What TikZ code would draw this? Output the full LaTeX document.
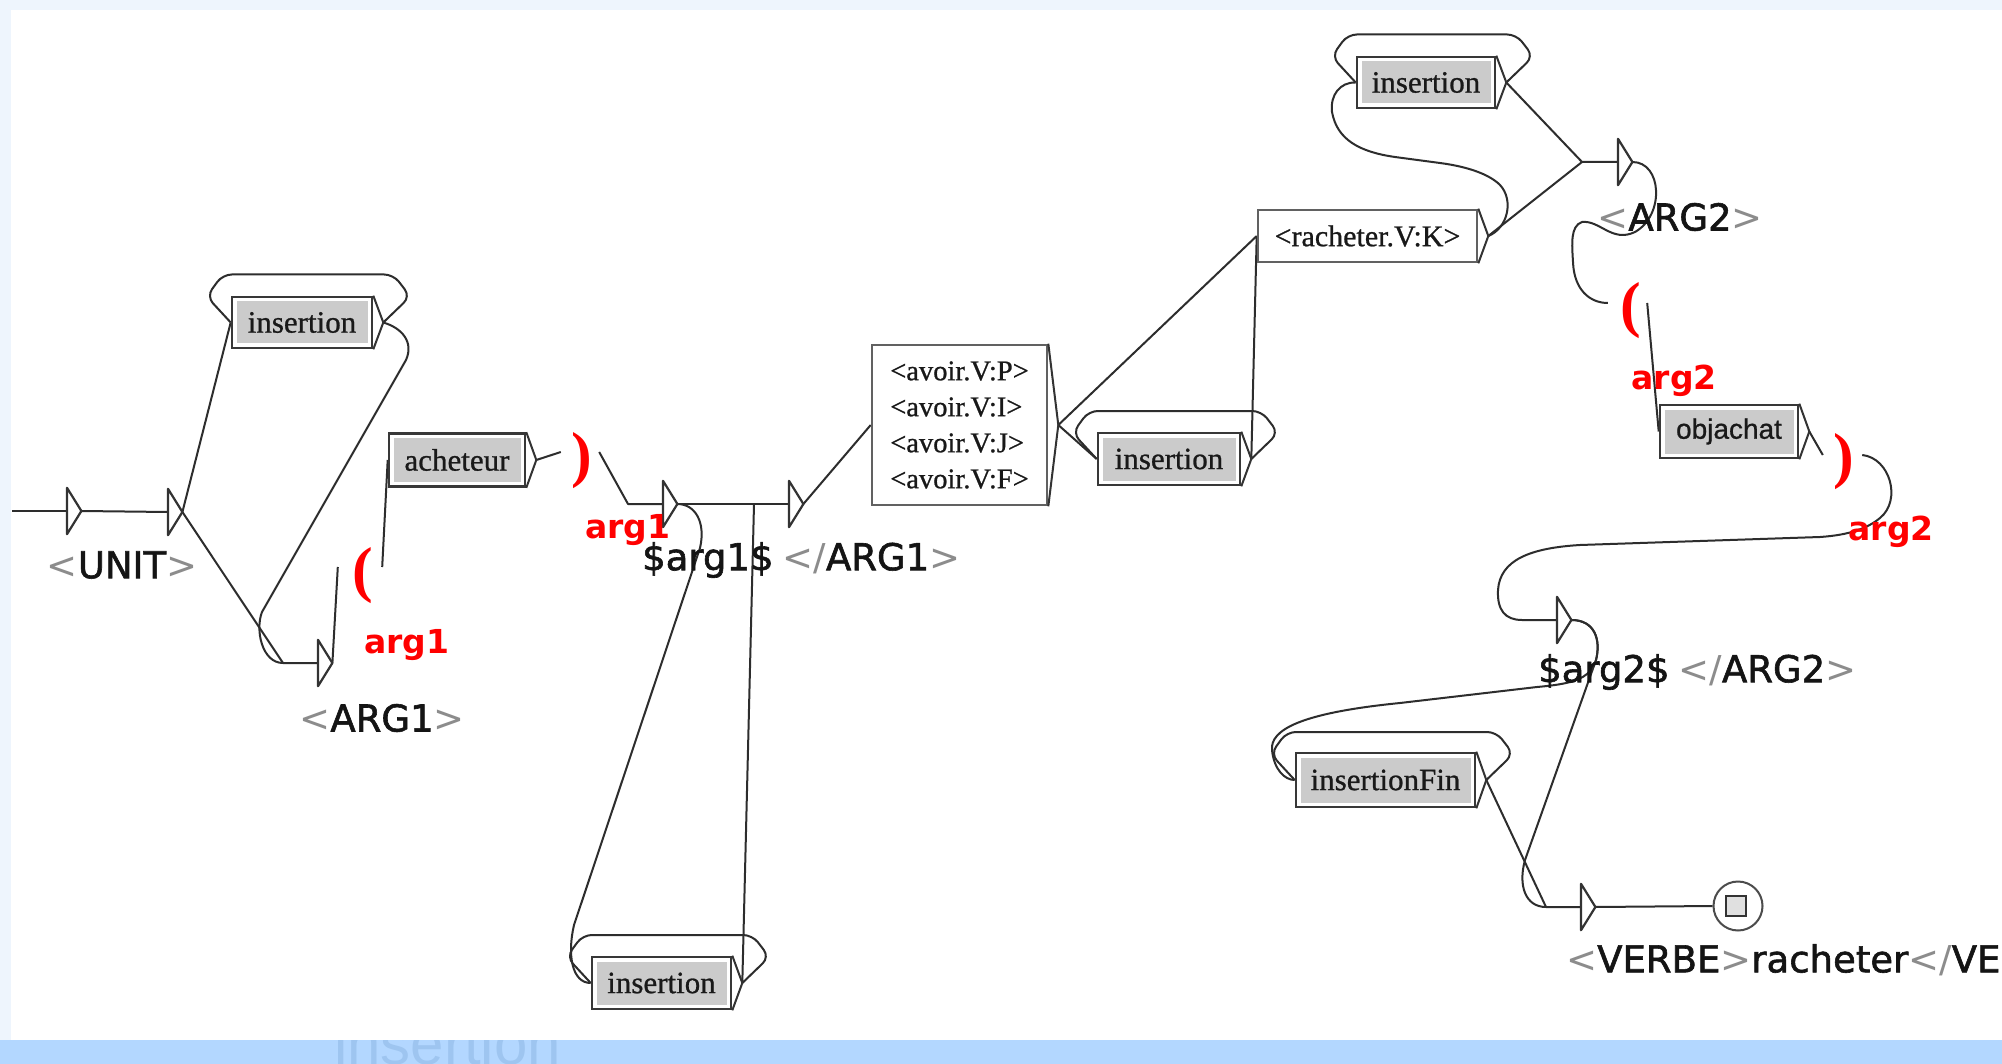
\documentclass[tikz,border=0pt]{standalone}
\usepackage{fontspec}
\setmainfont{Liberation Serif}
\newfontfamily\labfont[FakeBold=1.6]{DejaVu Sans}
\newfontfamily\labthin{DejaVu Sans}
\newfontfamily\boxfont[FakeBold=0.8]{Liberation Serif}
\newfontfamily\sansfont[FakeBold=0.8]{Liberation Sans}
\newfontfamily\bandfont{Liberation Sans}
\usetikzlibrary{calc}
\definecolor{bandtop}{RGB}{238,245,253}
\definecolor{bandbot}{RGB}{179,215,255}
\definecolor{bandtxt}{RGB}{158,197,240}
\definecolor{boxgray}{RGB}{203,203,203}
\definecolor{linec}{RGB}{45,45,45}
\definecolor{redv}{RGB}{255,0,0}
\pgfdeclarelayer{bg}\pgfdeclarelayer{edges}\pgfsetlayers{bg,edges,main}
\newcommand\Lsym{{\labthin\color{black!45}<}}
\newcommand\Rsym{{\labthin\color{black!45}>}}
\newcommand\Ssym{{\labthin\color{black!45}/}}
\tikzset{
 conn/.style={draw=linec, line width=2pt, line join=round},
 graybox/.style={rectangle, draw=black!78, line width=2.6pt, fill=white, inner sep=0pt,
   font=\boxfont\fontsize{31}{31}\selectfont, text=black!90,
   path picture={\fill[boxgray] ([shift={(4.5pt,4.5pt)}]path picture bounding box.south west) rectangle ([shift={(-4.5pt,-4.5pt)}]path picture bounding box.north east);}},
 whitebox/.style={rectangle, draw=black!62, line width=2.6pt, fill=white, inner sep=0pt,
   font=\boxfont\fontsize{30}{30}\selectfont, text=black!90},
 tri/.style={rectangle, inner sep=0pt, minimum width=14pt, minimum height=46pt, anchor=west},
 trishape/.style={draw=black!80, line width=2.2pt, fill=white, line join=round},
 boxarr/.style={draw=black!80, line width=2pt, line join=round},
 lab/.style={font=\labfont\fontsize{37}{37}\selectfont, inner sep=0pt, text=black!92},
 varlab/.style={font=\labthin\bfseries\fontsize{33}{33}\selectfont, text=redv, inner sep=0pt},
 paren/.style={font=\bfseries\fontsize{62}{62}\selectfont, text=redv, inner sep=0pt},
 varbox/.style={rectangle, inner sep=0pt, minimum height=40pt},
}
\newcommand\outarr[1]{\coordinate (#1o) at ([xshift=10pt]#1.east);
  \draw[boxarr] (#1.north east) -- (#1o) -- (#1.south east);}
\newcommand\selfloop[1]{\draw[conn, rounded corners=9pt] (#1o) -- ++(27,-26) -- ++(-17,-22)
  -- ($(#1.west)+(-8,-48)$) -- ($(#1.west)+(-24,-26)$) -- (#1.west);}
\begin{document}
\begin{tikzpicture}[x=1pt,y=-1pt]
\useasboundingbox (0,0) rectangle (2002,1064);
\begin{pgfonlayer}{bg}
 \fill[white] (0,0) rectangle (2002,1064);
 \fill[bandtop] (0,0) rectangle (2002,10);
 \fill[bandtop] (0,0) rectangle (11,1040);
 \fill[bandbot] (0,1040) rectangle (2002,1064);
 \begin{scope}
  \clip (0,1040) rectangle (2002,1064);
  \node[anchor=base west, inner sep=0pt, font=\bandfont\fontsize{60}{60}\selectfont, text=bandtxt] (bandt) at (334,1064) {insertion};
 \end{scope}
\end{pgfonlayer}

% triangles (empty boxes with outputs)
\node[tri] (t0) at (67,511) {};
\node[tri] (tU) at (168,512) {};
\node[tri] (tA1) at (318,663) {};
\node[tri] (tS1) at (663,504) {};
\node[tri] (tM) at (789,504) {};
\node[tri] (tA2) at (1618,162) {};
\node[tri] (tS2) at (1557,620) {};
\node[tri] (tV) at (1581,907) {};
\foreach \t in {t0,tU,tA1,tS1,tM,tA2,tS2,tV}
  \draw[trishape] (\t.north west) -- (\t.east) -- (\t.south west) -- cycle;
\coordinate (start) at (12,511);
\coordinate (tA1in) at ([xshift=-35pt]tA1.west);
\coordinate (tS1in) at ([xshift=-35pt]tS1.west);
\coordinate (tMin) at ([xshift=-35pt]tM.west);
\coordinate (tA2in) at ([xshift=-36pt]tA2.west);
\coordinate (tS2in) at ([xshift=-35pt]tS2.west);
\coordinate (tVin) at ([xshift=-35pt]tV.west);

% labels of outputs
\node[lab] (lUNIT) at (122,565) {\Lsym UNIT\Rsym};
\node[lab] (lARG1) at (382,718) {\Lsym ARG1\Rsym};
\node[lab, anchor=west] (lS1) at (642,560) {\$arg1\$\hspace{9pt}\Lsym\Ssym ARG1\Rsym};
\node[lab] (lARG2) at (1680,217) {\Lsym ARG2\Rsym};
\node[lab, anchor=west] (lS2) at (1538,672) {\$arg2\$\hspace{9pt}\Lsym\Ssym ARG2\Rsym};
\begin{scope}
 \clip (0,0) rectangle (2002,1064);
 \node[lab, anchor=west] (lV) at (1566,960) {\Lsym VERBE\Rsym racheter\Lsym\Ssym VERBE\Rsym};
\end{scope}

% boxes
\node[graybox, minimum width=140pt, minimum height=51pt] (ins1) at (302,322.5) {insertion};
\node[graybox, minimum width=136pt, minimum height=53pt] (ach) at (457,460) {acheteur};
\node[whitebox, minimum width=175pt, minimum height=160pt, align=left,
      font=\boxfont\fontsize{28.5}{36}\selectfont] (avoir) at (959.5,425)
      {<avoir.V:P>\\<avoir.V:I>\\<avoir.V:J>\\<avoir.V:F>};
\node[graybox, minimum width=142pt, minimum height=52pt] (ins2) at (1169,459) {insertion};
\node[whitebox, minimum width=219pt, minimum height=52pt] (rach) at (1367.5,236) {<racheter.V:K>};
\node[graybox, minimum width=138pt, minimum height=51pt] (ins3) at (1426,82.5) {insertion};
\node[graybox, minimum width=138pt, minimum height=53pt, font=\sansfont\fontsize{28}{28}\selectfont] (obj) at (1729,431.5) {objachat};
\node[graybox, minimum width=179pt, minimum height=54pt] (insF) at (1385.5,780) {insertionFin};
\node[graybox, minimum width=139pt, minimum height=52pt] (ins4) at (661.5,983) {insertion};
\foreach \b in {ins1,ach,avoir,ins2,rach,ins3,obj,insF,ins4} {\outarr{\b}}

% variable markers
\node[varbox, minimum width=44pt] (vo1) at (360,567) {};
\node[paren] (vo1p) at (363,576) {(};
\node[varlab] (vo1l) at (407,645) {arg1};
\node[varbox, minimum width=38pt] (vc1) at (580,452) {};
\node[paren] (vc1p) at (582,461) {)};
\node[varlab] (vc1l) at (628,530) {arg1};
\node[varbox, minimum width=39pt] (vo2) at (1627.5,303) {};
\node[paren] (vo2p) at (1631,311) {(};
\node[varlab] (vo2l) at (1674,381) {arg2};
\node[varbox, minimum width=39pt] (vc2) at (1842.5,455) {};
\node[paren] (vc2p) at (1844,462) {)};
\node[varlab] (vc2l) at (1891,532) {arg2};

% final state
\node[circle, draw=black!70, line width=2pt, minimum size=49pt, inner sep=0pt, fill=white] (fin) at (1738,906) {};
\node[rectangle, draw=black!80, line width=2.4pt, fill=black!12, minimum size=20pt, inner sep=0pt] (finsq) at (1736,906) {};

% connectors
\begin{pgfonlayer}{edges}
\draw[conn] (start) -- (t0.west);
\draw[conn] (t0.east) -- (tU.west);
\draw[conn] (tU.east) -- (ins1.west);
\draw[conn] (tU.east) -- (tA1in) -- (tA1.west);
\draw[conn] (ins1o) .. controls (402,328) and (414,342) .. (406,360) -- (262,612)
  .. controls (255,630) and (262,663) .. (tA1in);
\selfloop{ins1}
\draw[conn] (tA1.east) -- (vo1.west);
\draw[conn] (vo1.east) -- (ach.west);
\draw[conn] (acho) -- (vc1.west);
\draw[conn] (vc1.east) -- (tS1in) -- (tS1.west);
\draw[conn] (tS1.east) -- (tMin) -- (tM.west);
\draw[conn] (tS1.east) .. controls (695,504) and (706,522) .. (700,548) -- (574,925)
  .. controls (567,955) and (572,983) .. (ins4.west);
\selfloop{ins4}
\draw[conn] (ins4o) -- (tMin);
\draw[conn] (tM.east) -- (avoir.west);
\draw[conn] (avoiro) -- (rach.west);
\draw[conn] (avoiro) -- (ins2.west);
\selfloop{ins2}
\draw[conn] (ins2o) -- (rach.west);
\draw[conn] (racho) -- (tA2in) -- (tA2.west);
\draw[conn] (racho) .. controls (1508,228) and (1514,200) .. (1500,185)
  .. controls (1490,175) and (1470,167) .. (1440,163) -- (1395,157)
  .. controls (1360,152) and (1337,140) .. (1332,112)
  .. controls (1330,95) and (1340,82) .. (ins3.west);
\selfloop{ins3}
\draw[conn] (ins3o) -- (tA2in);
\draw[conn] (tA2.east) .. controls (1662,162) and (1665,215) .. (1635,232)
  .. controls (1612,243) and (1600,220) .. (1582,222)
  .. controls (1570,226) and (1572,245) .. (1573,262)
  .. controls (1574,290) and (1590,303) .. (vo2.west);
\draw[conn] (vo2.east) -- (obj.west);
\draw[conn] (objo) -- (vc2.west);
\draw[conn] (vc2.east) .. controls (1890,458) and (1902,500) .. (1880,518)
  .. controls (1868,528) and (1850,535) .. (1820,537) -- (1580,545)
  .. controls (1530,548) and (1500,560) .. (1498,590)
  .. controls (1497,610) and (1505,620) .. (tS2in) -- (tS2.west);
\draw[conn] (tS2.east) .. controls (1595,620) and (1601,640) .. (1596,660) -- (1525,860)
  .. controls (1518,885) and (1525,907) .. (tVin) -- (tV.west);
\draw[conn] (tS2.east) .. controls (1595,620) and (1601,640) .. (1596,660)
  .. controls (1590,680) and (1570,684) .. (1537,687) -- (1400,703)
  .. controls (1300,713) and (1270,730) .. (1272,750)
  .. controls (1274,770) and (1285,780) .. (insF.west);
\selfloop{insF}
\draw[conn] (insFo) -- (tVin);
\draw[conn] (tV.east) -- (fin.west);
\end{pgfonlayer}
\end{tikzpicture}
\end{document}
